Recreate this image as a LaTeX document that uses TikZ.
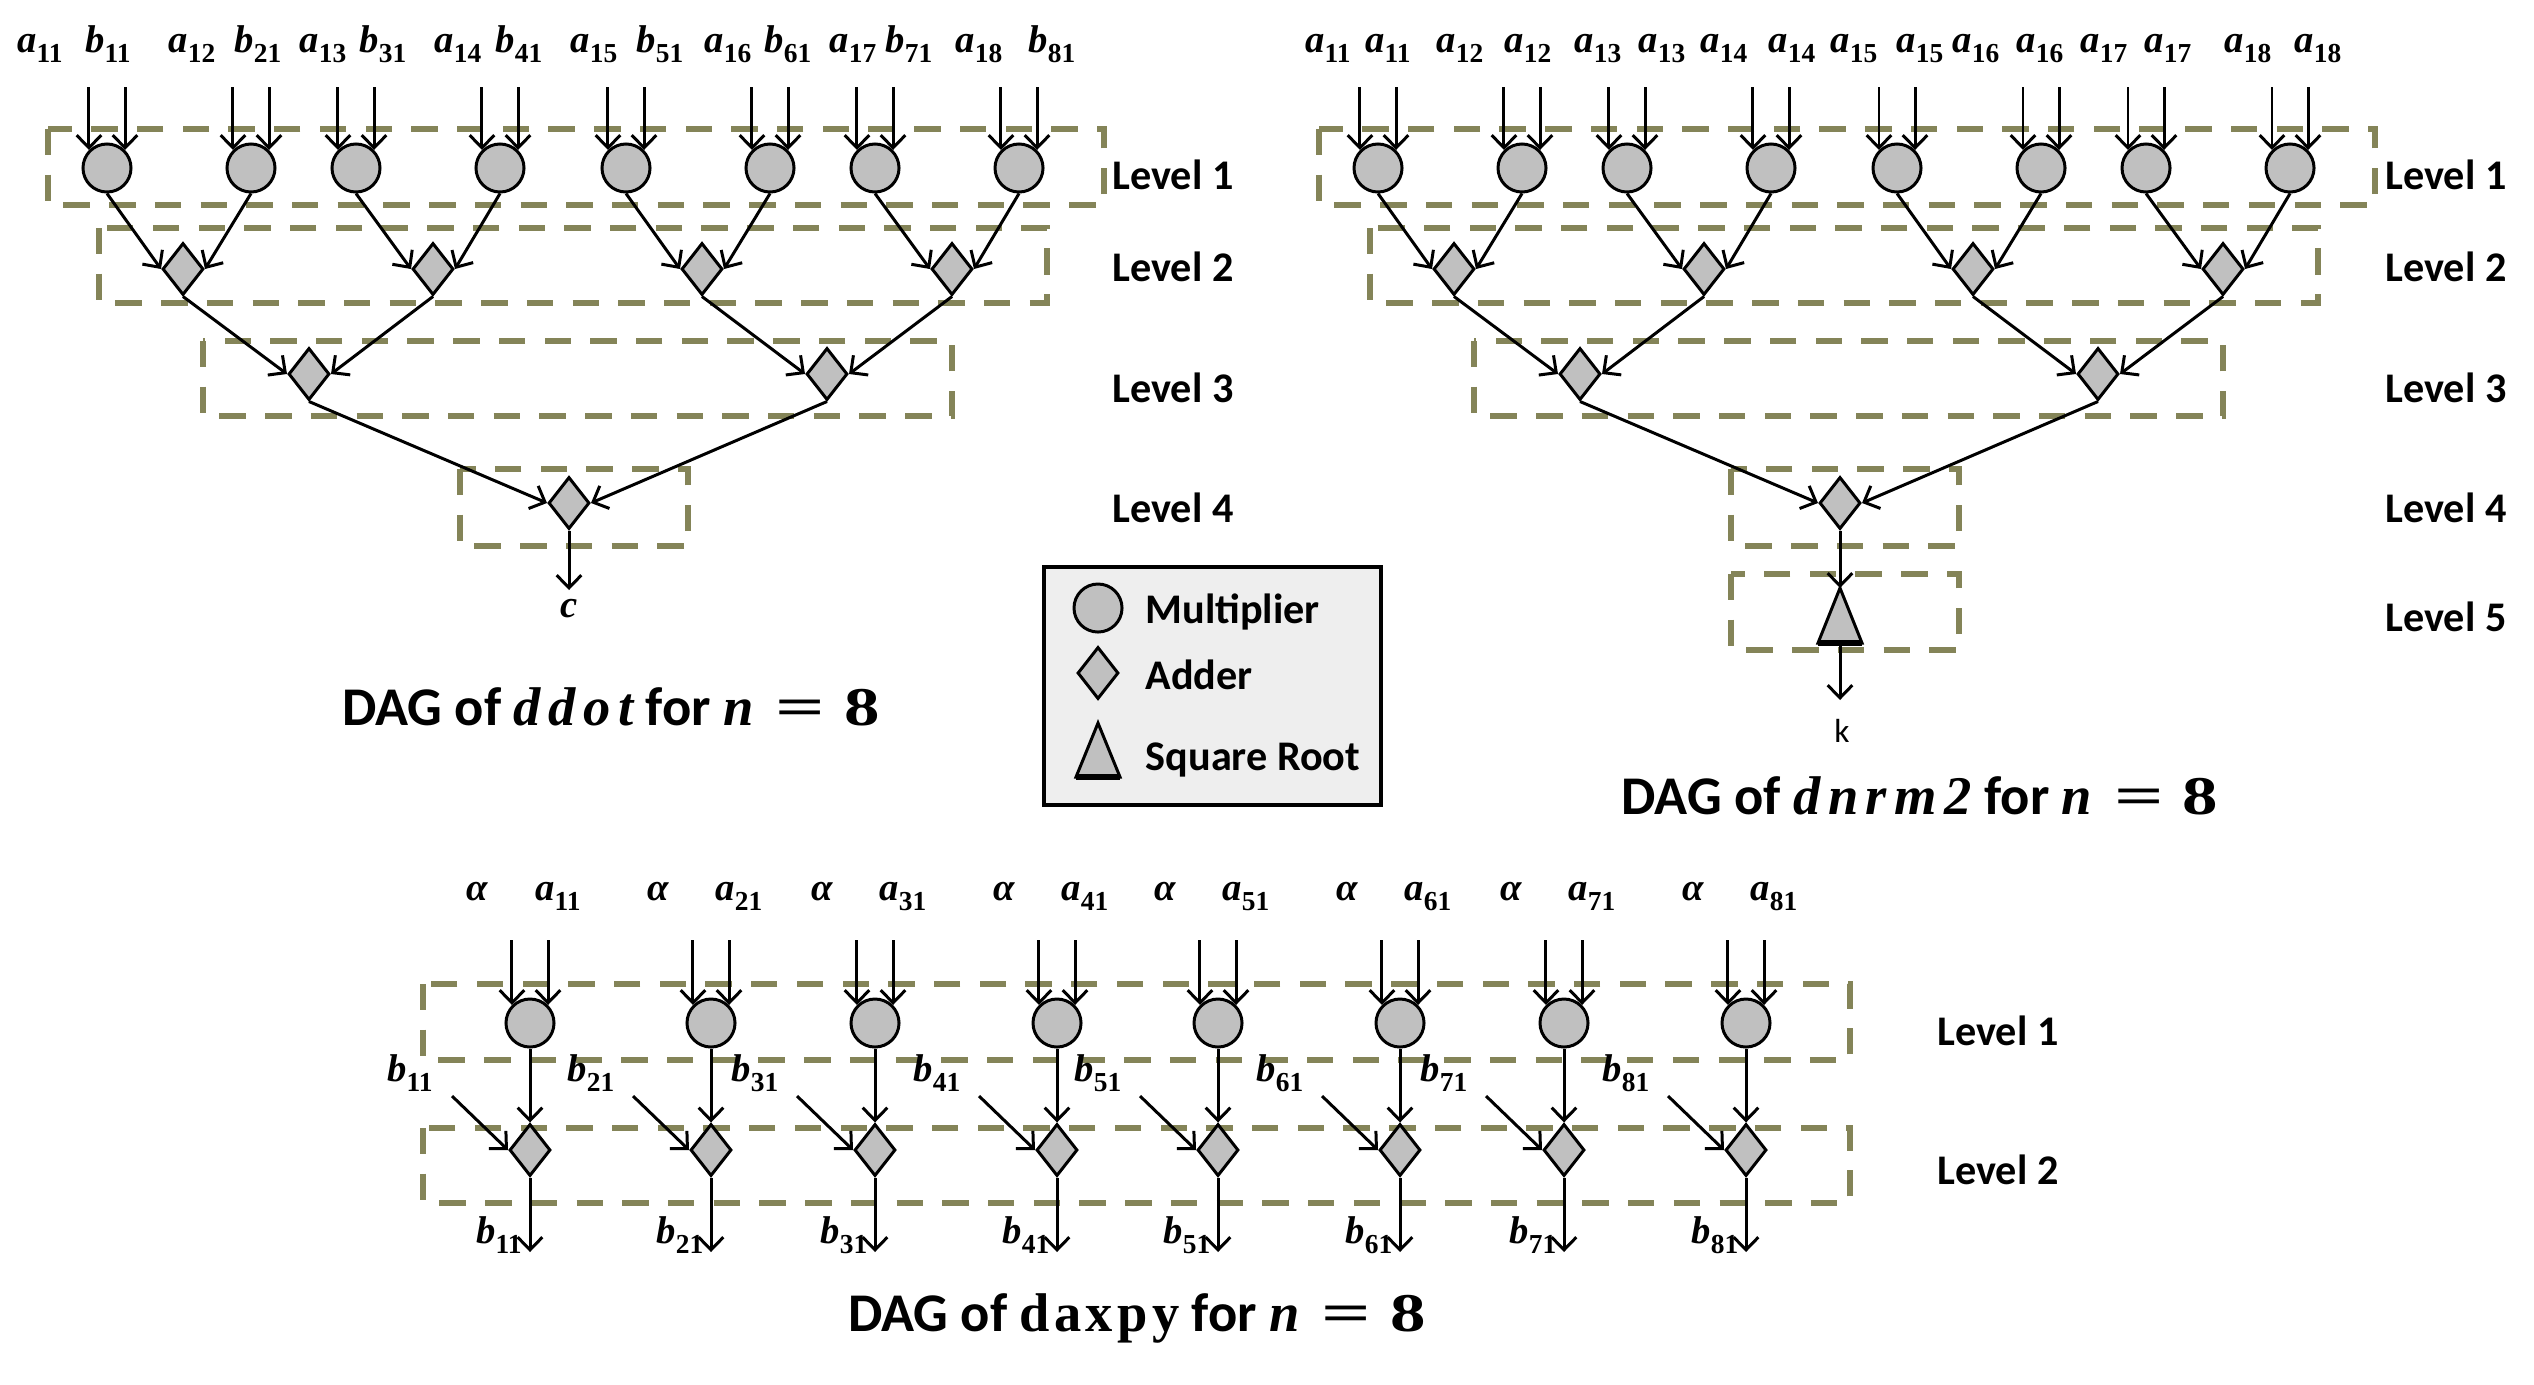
\documentclass[tikz,border=0pt]{standalone}
\usepackage{fontspec}
\usepackage{graphicx}
\setmainfont{Carlito}
\newfontfamily\labfont{Liberation Serif}
\newfontfamily\titmath{Liberation Serif}[LetterSpace=14]
\newfontfamily\titup{Liberation Serif}[LetterSpace=8]
\usetikzlibrary{shapes.geometric,arrows.meta}
\definecolor{olivebox}{RGB}{132,132,88}
\definecolor{shapegray}{RGB}{192,192,192}
\definecolor{legfill}{RGB}{238,238,238}
\newcommand\vit[1]{{\labfont\bfseries\itshape #1}}
\newcommand\sv[2]{\vit{#1}\raisebox{-0.55ex}{\labfont\bfseries\fontsize{7.8}{8}\selectfont #2}}
\newcommand\tvit[1]{{\titmath\bfseries\itshape #1}}
\newcommand\neight{\tvit{n}\hspace{0.4em}{\labfont\bfseries\scalebox{1.6}[1]{=}}\hspace{0.35em}{\labfont\bfseries\scalebox{1.3}[1]{8}}}
\begin{document}
\begin{tikzpicture}[x=0.01cm,y=-0.01cm,
 mult/.style={circle,draw,fill=shapegray,line width=0.85pt,minimum size=0.48cm,inner sep=0pt},
 add/.style={diamond,draw,fill=shapegray,line width=0.85pt,minimum width=0.41cm,minimum height=0.52cm,inner sep=0pt},
 sqrtshape/.style={draw,fill=shapegray,line width=0.85pt,line join=miter},
 lvlbox/.style={draw=olivebox,line width=1.7pt,dash pattern=on 7.5pt off 5.5pt},
 conn/.style={line width=0.85pt,-{Straight Barb[length=3.6pt,width=7pt]}},
 lvl/.style={font=\fontsize{12}{14}\selectfont\bfseries,inner sep=0pt},
 ttl/.style={font=\fontsize{15.5}{18}\selectfont\bfseries,inner sep=0pt},
 lab/.style={font=\fontsize{11}{13}\selectfont,inner sep=0pt,anchor=base},
 legtxt/.style={font=\fontsize{12}{14}\selectfont\bfseries,inner sep=0pt,anchor=west}]
\useasboundingbox (0,0) rectangle (2534,1384);

% ================= ddot =================
\coordinate (dtop) at (0,87);
\draw[lvlbox] (48,129) rectangle (1104,205);
\draw[lvlbox] (99,228) rectangle (1047,303);
\draw[lvlbox] (203,341) rectangle (952,416);
\draw[lvlbox] (460,469) rectangle (688,546);
\foreach \i/\x in {1/107,2/251,3/356,4/500,5/626,6/770,7/875,8/1019}{
  \node[mult] (dm\i) at (\x,168) {};
  \draw[conn] (dm\i.135 |- dtop) -- (dm\i.135);
  \draw[conn] (dm\i.45 |- dtop) -- (dm\i.45);
}
\foreach \i/\x in {1/183,2/433,3/702,4/952}{\node[add] (da\i) at (\x,269) {};}
\foreach \i/\x in {1/309,2/827}{\node[add] (db\i) at (\x,374) {};}
\node[add] (dc1) at (569,503) {};
\draw[conn] (dm1.south) -- (da1.west); \draw[conn] (dm2.south) -- (da1.east);
\draw[conn] (dm3.south) -- (da2.west); \draw[conn] (dm4.south) -- (da2.east);
\draw[conn] (dm5.south) -- (da3.west); \draw[conn] (dm6.south) -- (da3.east);
\draw[conn] (dm7.south) -- (da4.west); \draw[conn] (dm8.south) -- (da4.east);
\draw[conn] (da1.south) -- (db1.west); \draw[conn] (da2.south) -- (db1.east);
\draw[conn] (da3.south) -- (db2.west); \draw[conn] (da4.south) -- (db2.east);
\draw[conn] (db1.south) -- (dc1.west); \draw[conn] (db2.south) -- (dc1.east);
\coordinate (dout) at (569,590);
\draw[conn] (dc1.south) -- (dout);
\node[lab] (dc) at (569,617) {\vit{c}};
\foreach \n/\x/\l/\s in {1/40/a/11,2/108/b/11,3/192/a/12,4/258/b/21,5/323/a/13,6/383/b/31,7/458/a/14,8/519/b/41,9/594/a/15,10/660/b/51,11/728/a/16,12/788/b/61,13/853/a/17,14/909/b/71,15/979/a/18,16/1052/b/81}{
  \node[lab] (dl\n) at (\x,52) {\sv{\l}{\s}};
}
\node[lvl] (dlv1) at (1173,175) {Level 1};
\node[lvl] (dlv2) at (1173,267) {Level 2};
\node[lvl] (dlv3) at (1173,388) {Level 3};
\node[lvl] (dlv4) at (1173,508) {Level 4};
\node[ttl] (dtitle) at (611,707) {DAG of \tvit{ddot} for \neight};

% ================= dnrm2 =================
\draw[lvlbox] (1319,129) rectangle (2375,205);
\draw[lvlbox] (1370,228) rectangle (2318,303);
\draw[lvlbox] (1474,341) rectangle (2223,416);
\draw[lvlbox] (1731,469) rectangle (1959,546);
\draw[lvlbox] (1731,574) rectangle (1959,650);
\foreach \i/\x in {1/1378,2/1522,3/1627,4/1771,5/1897,6/2041,7/2146,8/2290}{
  \node[mult] (nm\i) at (\x,168) {};
  \draw[conn] (nm\i.135 |- dtop) -- (nm\i.135);
  \draw[conn] (nm\i.45 |- dtop) -- (nm\i.45);
}
\foreach \i/\x in {1/1454,2/1704,3/1973,4/2223}{\node[add] (na\i) at (\x,269) {};}
\foreach \i/\x in {1/1580,2/2098}{\node[add] (nb\i) at (\x,374) {};}
\node[add] (nc1) at (1840,503) {};
\draw[conn] (nm1.south) -- (na1.west); \draw[conn] (nm2.south) -- (na1.east);
\draw[conn] (nm3.south) -- (na2.west); \draw[conn] (nm4.south) -- (na2.east);
\draw[conn] (nm5.south) -- (na3.west); \draw[conn] (nm6.south) -- (na3.east);
\draw[conn] (nm7.south) -- (na4.west); \draw[conn] (nm8.south) -- (na4.east);
\draw[conn] (na1.south) -- (nb1.west); \draw[conn] (na2.south) -- (nb1.east);
\draw[conn] (na3.south) -- (nb2.west); \draw[conn] (na4.south) -- (nb2.east);
\draw[conn] (nb1.south) -- (nc1.west); \draw[conn] (nb2.south) -- (nc1.east);
\coordinate (ntA) at (1840,588);
\coordinate (ntL) at (1818,643);
\coordinate (ntR) at (1862,643);
\coordinate (ntB) at (1840,643);
\draw[sqrtshape] (ntA) -- (ntR) -- (ntL) -- cycle;
\draw[line width=1.5pt] (ntL) -- (ntR);
\draw[conn] (nc1.south) -- (ntA);
\coordinate (nout) at (1840,700);
\draw[conn] (ntB) -- (nout);
\node[font=\fontsize{9.5}{11}\selectfont,inner sep=0pt] (nk) at (1842,731) {k};
\foreach \n/\x/\s in {1/1328/11,2/1388/11,3/1460/12,4/1528/12,5/1598/13,6/1662/13,7/1724/14,8/1792/14,9/1854/15,10/1920/15,11/1976/16,12/2040/16,13/2104/17,14/2168/17,15/2248/18,16/2318/18}{
  \node[lab] (nl\n) at (\x,52) {\sv{a}{\s}};
}
\node[lvl] (nlv1) at (2446,175) {Level 1};
\node[lvl] (nlv2) at (2446,267) {Level 2};
\node[lvl] (nlv3) at (2446,388) {Level 3};
\node[lvl] (nlv4) at (2446,508) {Level 4};
\node[lvl] (nlv5) at (2446,617) {Level 5};
\node[ttl] (ntitle) at (1920,796) {DAG of \tvit{dnrm2} for \neight};

% ================= legend =================
\draw[fill=legfill,line width=1.2pt] (1044,567) rectangle (1381,805);
\node[mult] (lgm) at (1098,608) {};
\node[add] (lga) at (1098,673) {};
\coordinate (lgtA) at (1098,723);
\coordinate (lgtL) at (1076,777);
\coordinate (lgtR) at (1120,777);
\draw[sqrtshape] (lgtA) -- (lgtR) -- (lgtL) -- cycle;
\draw[line width=1.5pt] (lgtL) -- (lgtR);
\node[legtxt] (lgmt) at (1145,612) {Multiplier};
\node[legtxt] (lgat) at (1145,675) {Adder};
\node[legtxt] (lgst) at (1145,760) {Square Root};

% ================= daxpy =================
\coordinate (xtop) at (0,940);
\coordinate (xbot) at (0,1252);
\draw[lvlbox] (423,984) rectangle (1850,1060);
\draw[lvlbox] (423,1128) rectangle (1850,1203);
\foreach \i/\x in {1/530,2/711,3/875,4/1057,5/1218,6/1400,7/1564,8/1746}{
  \node[mult] (xm\i) at (\x,1023) {};
  \node[add] (xa\i) at (\x,1150) {};
  \draw[conn] (xm\i.135 |- xtop) -- (xm\i.135);
  \draw[conn] (xm\i.45 |- xtop) -- (xm\i.45);
  \draw[conn] (xm\i.south) -- (xa\i.north);
  \coordinate (xs\i) at (\x-78,1096);
  \draw[conn] (xs\i) -- (xa\i.west);
  \draw[conn] (xa\i.south) -- (xa\i |- xbot);
  \node[lab] (xal\i) at (\x-53,900) {\vit{α}};
  \node[lab] (xaa\i) at (\x+28,900) {\sv{a}{\i1}};
  \node[lab] (xbi\i) at (\x-120,1081) {\sv{b}{\i1}};
  \node[lab] (xbo\i) at (\x-31,1243) {\sv{b}{\i1}};
}
\node[lvl] (xlv1) at (1998,1031) {Level 1};
\node[lvl] (xlv2) at (1998,1170) {Level 2};
\node[ttl] (xtitle) at (1137,1318) {DAG of {\titup\bfseries daxpy} for \neight};
\end{tikzpicture}
\end{document}
